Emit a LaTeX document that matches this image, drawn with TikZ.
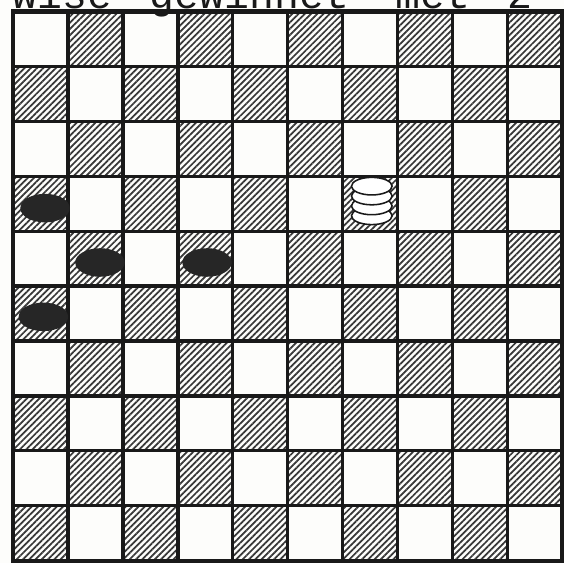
\documentclass[tikz,border=0pt]{standalone}
\usepackage{fontspec}
\newfontfamily\typewriter{Liberation Mono}
\usetikzlibrary{patterns.meta, shapes.geometric, positioning}
\definecolor{boardink}{RGB}{25,25,25}
\definecolor{hatchink}{RGB}{55,55,55}
\definecolor{paper}{RGB}{253,253,251}
\definecolor{manblack}{RGB}{38,38,38}
\tikzset{
  darksq/.style={pattern={Lines[angle=45,distance=2.3pt,line width=0.9pt]},
    pattern color=hatchink},
  gridline/.style={line width=1.7pt, color=boardink},
  frame/.style={line width=2.2pt, color=boardink},
  blackman/.style={ellipse, fill=manblack, minimum width=0.9cm,
    minimum height=0.52cm, inner sep=0pt},
  whitedisc/.style={ellipse, draw=boardink, fill=white, line width=0.8pt,
    minimum width=0.74cm, minimum height=0.32cm, inner sep=0pt},
  titletext/.style={font=\typewriter\fontsize{21.5}{21.5}\selectfont,
    anchor=base west, inner sep=0pt, color=boardink}
}

\begin{document}
\begin{tikzpicture}
  \fill[paper] (-0.24,-0.05) rectangle (10.03,10.21);
  \useasboundingbox (-0.24,-0.05) rectangle (10.03,10.21);
  % cut-off caption above the board
  \node[titletext] (title) at (-0.02,10.06) {wise};
  \node[titletext] (titleword) at (2.48,10.06) {gewinnet};
  \node[titletext] (titlemet) at (6.96,10.06) {met};
  \node[titletext] (titlenum) at (9.0,10.06) {2};
  % hatched squares
  \foreach \r in {0,...,9} \foreach \c in {0,...,9} {
    \pgfmathparse{int(mod(\r+\c,2))}
    \ifnum\pgfmathresult=1 \path[darksq] (\c,9-\r) rectangle ++(1,1); \fi
  }
  % grid
  \foreach \i in {1,...,9} {
    \draw[gridline] (\i,0) -- (\i,10);
    \draw[gridline] (0,\i) -- (10,\i);
  }
  \draw[frame] (0,0) rectangle (10,10);
  % black men
  \node[blackman] (b1) at (0.58,6.42) {};
  \node[blackman] (b2) at (1.58,5.43) {};
  \node[blackman] (b3) at (3.53,5.43) {};
  \node[blackman] (b4) at (0.55,4.44) {};
  % white king
  \node[whitedisc] (wk1) at (6.53,6.28) {};
  \node[whitedisc] (wk2) at (6.53,6.46) {};
  \node[whitedisc] (wk3) at (6.53,6.64) {};
  \node[whitedisc] (wk4) at (6.53,6.82) {};
\end{tikzpicture}
\end{document}
